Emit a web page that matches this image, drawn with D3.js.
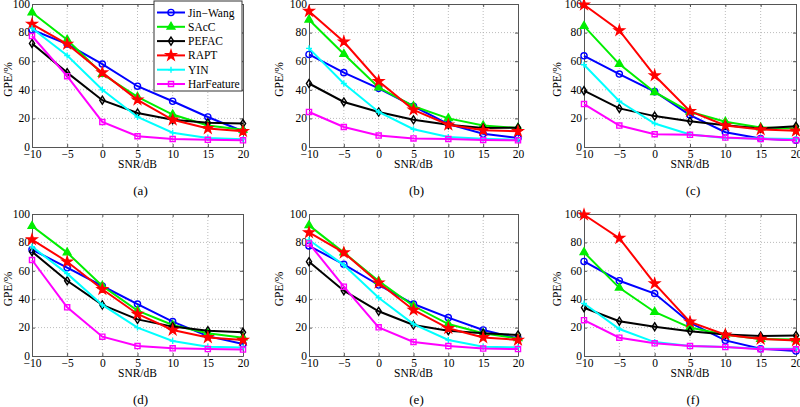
<!DOCTYPE html>
<html><head><meta charset="utf-8">
<script src="https://cdn.jsdelivr.net/npm/d3@7"></script>
<style>
body{margin:0;background:#fff}
svg text{font-family:"Liberation Serif","Times New Roman",serif !important;fill:#000}
</style>
</head><body>
<svg id="chart" width="800" height="407" font-family="Liberation Serif"></svg>
<script>
// ---------------- data ----------------
const snr = [-10, -5, 0, 5, 10, 15, 20];
const yTicks = [0, 20, 40, 60, 80, 100];
const methods = ["Jin\u2212Wang", "SAcC", "PEFAC", "RAPT", "YIN", "HarFeature"];
const panelLabels = ["(a)", "(b)", "(c)", "(d)", "(e)", "(f)"];

// rows follow the methods order: Jin-Wang, SAcC, PEFAC, RAPT, YIN, HarFeature
const gpeA = [
  [82, 72, 58, 42.5, 32, 21, 11],
  [94, 75, 51, 35, 22.7, 15, 12],
  [72.4, 52, 32.7, 23.8, 19, 17, 16.4],
  [86, 72, 52, 33, 19, 13, 11],
  [83, 64, 40, 21, 10, 6.3, 5.5],
  [77.6, 49.5, 17.5, 7.5, 5.6, 5, 4.7]
];
const gpeB = [
  [64.7, 52, 41, 28.5, 16, 9.3, 6.3],
  [89, 65, 41.6, 28.5, 20, 15, 13.3],
  [44.4, 31.5, 24.5, 19, 15.6, 13.3, 13.5],
  [95, 73.6, 46, 26, 15.6, 11.7, 11],
  [69, 44.4, 24.5, 12.4, 7, 5.8, 5.1],
  [24.5, 14, 8, 6, 5.6, 4.9, 4.7]
];
const gpeC = [
  [63.8, 51, 38.7, 22.3, 10.3, 5.9, 4.7],
  [84.5, 58, 38.3, 24.6, 17.6, 13.6, 13],
  [39.4, 27, 21.6, 18, 15.2, 13, 14.5],
  [99.5, 81.5, 50, 25, 15, 12.2, 11.3],
  [57.5, 32, 16.4, 8.7, 6.3, 5.9, 5.6],
  [30, 15, 8.9, 8.5, 6.6, 5.6, 4.7]
];
const gpeD = [
  [75, 62.2, 49.3, 36.6, 24.2, 14, 8.5],
  [91.5, 72.8, 49.3, 32, 21.8, 16, 12.9],
  [73.5, 53, 36, 25.8, 20.7, 17.8, 16.7],
  [82, 66.4, 47, 29.6, 18.3, 13.1, 11.3],
  [77, 58, 36, 20, 10.6, 6.6, 5.9],
  [67.6, 34.3, 13.6, 7, 5.4, 4.9, 4.5]
];
const gpeE = [
  [77.5, 64.6, 50, 36.6, 27, 18.3, 12.4],
  [92, 72.8, 52.8, 35.2, 22.5, 16, 12.4],
  [66.4, 46, 31.5, 21.8, 17.8, 16, 14.8],
  [87, 72.8, 51.6, 32.4, 19.5, 13.1, 11.3],
  [81.7, 64, 41, 22.5, 11.3, 6.6, 6.1],
  [79.3, 48.8, 20.2, 9.9, 7, 5.2, 4.9]
];
const gpeF = [
  [66.6, 53, 44, 23.4, 11, 5.1, 3.5],
  [73, 48, 31, 20, 15, 12, 11.7],
  [34, 24.5, 20.6, 17.5, 15.2, 14, 14.5],
  [99.5, 83, 51, 24, 15, 12, 11],
  [37, 19, 9.8, 7, 6.3, 5.1, 5.1],
  [25.2, 12.9, 8.9, 7, 6.3, 4.7, 4.7]
];
const panelData = [gpeA, gpeB, gpeC, gpeD, gpeE, gpeF];

// ---------------- styles / layout ----------------
const colors = ["#0000ff", "#00ee00", "#000000", "#ff0000", "#00ffff", "#ff00ff"];
const colLeft = [32, 309, 584];
const colRight = [243, 518, 796];
const yTitleOffset = [20, 26, 23];
const rowTop = [4, 214];
const rowBottom = [147, 356];
const FS = 11.5;

const svg = d3.select("#chart");

function markerPath(i) {
  switch (i) {
    case 0: return d3.symbol(d3.symbolCircle, 30)();
    case 1: return d3.symbol(d3.symbolTriangle, 26)();
    case 2: return "M0,-4L2.6,0L0,4L-2.6,0Z";
    case 3: return d3.symbol(d3.symbolStar, 30)();
    case 4: return "M-3,0H3M0,-3V3";
    case 5: return d3.symbol(d3.symbolSquare, 26)();
  }
}
function markerFill(i) {
  if (i === 1 || i === 3) return colors[i];
  return "none";
}

panelData.forEach((data, p) => {
  const col = p % 3, row = Math.floor(p / 3);
  const x = d3.scaleLinear().domain([-10, 20]).range([colLeft[col], colRight[col]]);
  const y = d3.scaleLinear().domain([0, 100]).range([rowBottom[row], rowTop[row]]);
  const g = svg.append("g");

  // grid
  g.append("g").selectAll("line").data(snr.slice(1, -1)).join("line")
    .attr("x1", d => x(d)).attr("x2", d => x(d))
    .attr("y1", y(0)).attr("y2", y(100))
    .attr("stroke", "#aaa").attr("stroke-width", 0.8).attr("stroke-dasharray", "1,2");
  g.append("g").selectAll("line").data(yTicks.slice(1, -1)).join("line")
    .attr("y1", d => y(d)).attr("y2", d => y(d))
    .attr("x1", x(-10)).attr("x2", x(20))
    .attr("stroke", "#aaa").attr("stroke-width", 0.8).attr("stroke-dasharray", "1,2");

  // axes
  const xAxis = g.append("g").attr("transform", `translate(0,${y(0)})`)
    .call(d3.axisBottom(x).tickValues(snr).tickSizeInner(-3).tickSizeOuter(0).tickPadding(3));
  const xAxisTop = g.append("g").attr("transform", `translate(0,${y(100)})`)
    .call(d3.axisTop(x).tickValues(snr).tickSizeInner(-3).tickSizeOuter(0).tickFormat(""));
  const yAxis = g.append("g").attr("transform", `translate(${x(-10)},0)`)
    .call(d3.axisLeft(y).tickValues(yTicks).tickSizeInner(-3).tickSizeOuter(0).tickPadding(2));
  const yAxisR = g.append("g").attr("transform", `translate(${x(20)},0)`)
    .call(d3.axisRight(y).tickValues(yTicks).tickSizeInner(-3).tickSizeOuter(0).tickFormat(""));
  [xAxis, xAxisTop, yAxis, yAxisR].forEach(a => {
    a.attr("font-family", "Liberation Serif").attr("font-size", FS);
    a.select(".domain").attr("stroke", "#555").attr("stroke-width", 1);
    a.selectAll(".tick line").attr("stroke", "#555");
    a.selectAll("text").attr("font-size", FS).attr("fill", "#000");
  });
  xAxis.selectAll("text").attr("dy", "0.72em");
  yAxis.selectAll("text").attr("dy", "0.28em");

  // axis titles
  g.append("text").attr("x", (x(-10) + x(20)) / 2).attr("y", y(0) + 21)
    .attr("text-anchor", "middle").attr("font-size", FS).text("SNR/dB");
  g.append("text")
    .attr("transform", `translate(${x(-10) - yTitleOffset[col]},${(y(0) + y(100)) / 2 + 4}) rotate(-90)`)
    .attr("text-anchor", "middle").attr("font-size", FS).text("GPE/%");
  g.append("text").attr("x", (x(-10) + x(20)) / 2 + 3).attr("y", y(0) + 48)
    .attr("text-anchor", "middle").attr("font-size", 13).text(panelLabels[p]);

  // series
  const line = d3.line().x((d, i) => x(snr[i])).y(d => y(d));
  data.forEach((vals, m) => {
    g.append("path").attr("d", line(vals)).attr("fill", "none")
      .attr("stroke", colors[m]).attr("stroke-width", 2);
    g.append("g").selectAll("path").data(vals).join("path")
      .attr("transform", (d, i) => `translate(${x(snr[i])},${y(d)})`)
      .attr("d", markerPath(m))
      .attr("fill", markerFill(m)).attr("stroke", colors[m]).attr("stroke-width", 1.4);
  });

  // legend in the first panel
  if (p === 0) {
    const lg = g.append("g");
    lg.append("rect").attr("x", 154).attr("y", 1).attr("width", 88).attr("height", 90)
      .attr("fill", "#fff").attr("stroke", "#333").attr("stroke-width", 1);
    methods.forEach((name, m) => {
      const ly = 12.5 + m * 14.3;
      lg.append("line").attr("x1", 157).attr("x2", 185).attr("y1", ly).attr("y2", ly)
        .attr("stroke", colors[m]).attr("stroke-width", 2);
      lg.append("path").attr("transform", `translate(171,${ly})`).attr("d", markerPath(m))
        .attr("fill", markerFill(m)).attr("stroke", colors[m]).attr("stroke-width", 1.4);
      lg.append("text").attr("x", 188).attr("y", ly + 4).attr("font-size", FS).text(name);
    });
  }
});
</script>
</body></html>
